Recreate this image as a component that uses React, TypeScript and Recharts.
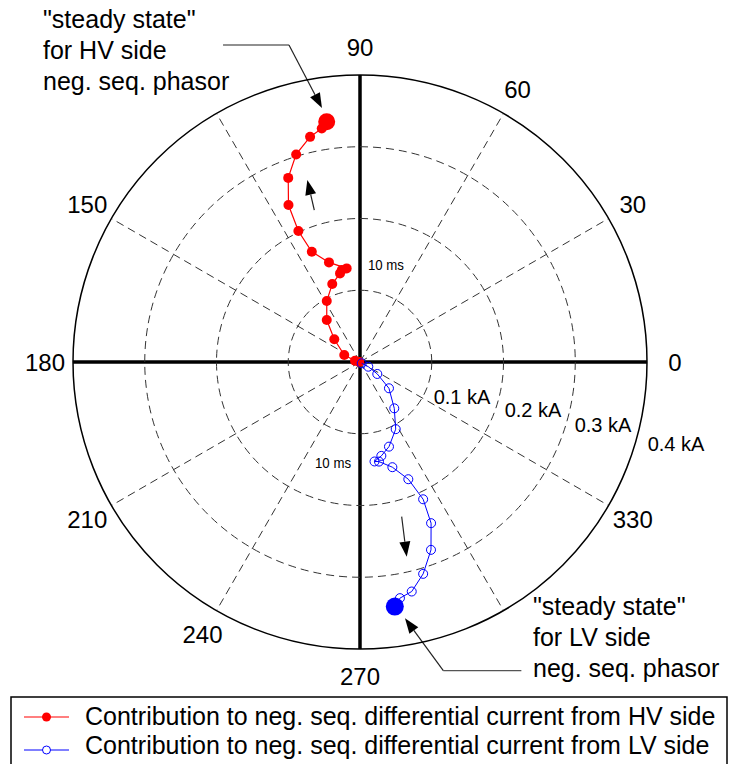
import React from 'react';
import { ScatterChart, Scatter, XAxis, YAxis, ReferenceLine, ReferenceDot } from 'recharts';

// HV side contribution, one sample per entry: magnitude in kA, angle in degrees
const hvMagnitude = [0.001, 0.0072, 0.024, 0.0478, 0.0746, 0.0968, 0.1153, 0.1266, 0.1306, 0.1318, 0.1454, 0.1677, 0.2017, 0.2404, 0.2754, 0.3027, 0.3214, 0.3298, 0.3379];
const hvAngle = [180, 165, 156, 138.6, 128.4, 118.6, 109.6, 102.7, 101.2, 98.1, 107.3, 113.6, 115.2, 114.5, 111.3, 107.1, 102.5, 99.3, 97.9];

// LV side contribution
const lvMagnitude = [0.003, 0.0133, 0.0293, 0.0545, 0.0803, 0.106, 0.1247, 0.1342, 0.1401, 0.1413, 0.1534, 0.1767, 0.2106, 0.2455, 0.2799, 0.3081, 0.3279, 0.3338, 0.3443];
const lvAngle = [-37, -29.5, -34.7, -42.2, -53.5, -62, -71.1, -77.2, -81.7, -79.2, -72.9, -67.6, -65.3, -66.2, -69.3, -73.4, -77.3, -80.4, -81.9];

// grid
const angleTicks = [0, 30, 60, 90, 150, 180, 210, 240, 270, 330];
const spokeAngles = [30, 60, 120, 150, 210, 240, 300, 330];
const ringValues = [0.1, 0.2, 0.3];
const outerRing = 0.4;
const ringLabels = ['0.1 kA', '0.2 kA', '0.3 kA', '0.4 kA'];
const ringLabelPos = [
  { x: 0.1422, y: -0.0484 },
  { x: 0.2411, y: -0.0669 },
  { x: 0.3387, y: -0.0878 },
  { x: 0.4404, y: -0.1143 },
];
const timeLabels = ['10 ms', '10 ms'];
const timeLabelPos = [
  { x: 0.0362, y: 0.1352 },
  { x: -0.0376, y: -0.1403 },
];

const hvNote = ['"steady state"', 'for HV side', 'neg. seq. phasor'];
const lvNote = ['"steady state"', 'for LV side', 'neg. seq. phasor'];

// layout
const W = 736;
const H = 764;
const MARGIN = { top: 0, right: 16, bottom: 40, left: 0 };
const PX_PER_KA = 717.5;
const X_HALF = (W - MARGIN.left - MARGIN.right) / 2 / PX_PER_KA;
const Y_HALF = (H - MARGIN.top - MARGIN.bottom) / 2 / PX_PER_KA;
const LABEL_R = 0.439;
const FONT = '"Liberation Sans", Arial, Helvetica, sans-serif';

const toXY = (m: number, a: number) => ({
  x: m * Math.cos((a * Math.PI) / 180),
  y: m * Math.sin((a * Math.PI) / 180),
});

const hvData = hvMagnitude.map((m, i) => toXY(m, hvAngle[i]));
const lvData = lvMagnitude.map((m, i) => toXY(m, lvAngle[i]));

// annotation paths in data space (kA)
const hvArrow = [
  { x: -0.1909, y: 0.4418 },
  { x: -0.099, y: 0.4418 },
  { x: -0.053, y: 0.354 },
];
const lvArrow = [
  { x: 0.2249, y: -0.4302 },
  { x: 0.1161, y: -0.4302 },
  { x: 0.0627, y: -0.3572 },
];
const hvDirection = [
  { x: -0.0637, y: 0.2118 },
  { x: -0.0734, y: 0.2537 },
];
const lvDirection = [
  { x: 0.0581, y: -0.2156 },
  { x: 0.0651, y: -0.2713 },
];

const ArrowLine = (p: any) => {
  const { x1, y1, x2, y2 } = p;
  const dx = x2 - x1;
  const dy = y2 - y1;
  const len = Math.sqrt(dx * dx + dy * dy) || 1;
  const ux = dx / len;
  const uy = dy / len;
  const L = 15;
  const hw = 5.5;
  const bx = x2 - ux * L;
  const by = y2 - uy * L;
  const pts = `${x2},${y2} ${bx - uy * hw},${by + ux * hw} ${bx + uy * hw},${by - ux * hw}`;
  return (
    <g>
      <line x1={x1} y1={y1} x2={bx} y2={by} stroke="#222" strokeWidth={1.2} />
      <polygon points={pts} fill="#000" />
    </g>
  );
};

const NoteText = (lines: string[]) => (p: any) => (
  <text x={p.cx} y={p.cy} fontFamily={FONT} fontSize={25} fill="#000">
    {lines.map((t, i) => (
      <tspan key={i} x={p.cx} dy={i === 0 ? 0 : 31}>
        {t}
      </tspan>
    ))}
  </text>
);

const Label = (text: string, size: number, extra: any = {}) => (p: any) => (
  <text
    x={p.cx}
    y={p.cy}
    textAnchor="middle"
    dominantBaseline="central"
    fontFamily={FONT}
    fontSize={size}
    fill="#000"
    {...extra}
  >
    {text}
  </text>
);

export default function App() {
  return (
    <div style={{ position: 'absolute', left: 0, top: 0, width: W, height: H, background: '#fff' }}>
      <ScatterChart width={W} height={H} margin={MARGIN}>
        <XAxis type="number" dataKey="x" domain={[-X_HALF, X_HALF]} allowDataOverflow hide />
        <YAxis type="number" dataKey="y" domain={[-Y_HALF, Y_HALF]} allowDataOverflow hide />

        {ringValues.map((r) => (
          <ReferenceDot
            key={`ring-${r}`}
            x={0}
            y={0}
            r={r * PX_PER_KA}
            fill="none"
            stroke="#333"
            strokeWidth={1}
            strokeDasharray="8 5"
          />
        ))}
        <ReferenceDot x={0} y={0} r={outerRing * PX_PER_KA} fill="none" stroke="#000" strokeWidth={1.5} />

        {spokeAngles.map((a) => (
          <ReferenceLine
            key={`spoke-${a}`}
            segment={[{ x: 0, y: 0 }, toXY(outerRing, a)]}
            stroke="#333"
            strokeWidth={1}
            strokeDasharray="8 5"
          />
        ))}
        <ReferenceLine segment={[{ x: -outerRing, y: 0 }, { x: outerRing, y: 0 }]} stroke="#000" strokeWidth={3.5} />
        <ReferenceLine segment={[{ x: 0, y: -outerRing }, { x: 0, y: outerRing }]} stroke="#000" strokeWidth={3.5} />

        {angleTicks.map((a) => (
          <ReferenceDot key={`ang-${a}`} {...toXY(LABEL_R, a)} r={0} shape={Label(String(a), 24)} />
        ))}
        {ringLabels.map((t, i) => (
          <ReferenceDot key={`rl-${i}`} {...ringLabelPos[i]} r={0} shape={Label(t, 20)} />
        ))}
        {timeLabels.map((t, i) => (
          <ReferenceDot
            key={`tl-${i}`}
            {...timeLabelPos[i]}
            r={0}
            shape={Label(t, 14, { textLength: 36, lengthAdjust: 'spacingAndGlyphs' })}
          />
        ))}

        <Scatter
          name="HV"
          data={hvData}
          isAnimationActive={false}
          line={{ stroke: '#ff0000', strokeWidth: 1.2 }}
          shape={(p: any) => <circle cx={p.cx} cy={p.cy} r={5} fill="#ff0000" />}
        />
        <Scatter
          name="HV steady"
          data={hvData.slice(-1)}
          isAnimationActive={false}
          shape={(p: any) => <circle cx={p.cx} cy={p.cy} r={8.5} fill="#ff0000" />}
        />
        <Scatter
          name="LV"
          data={lvData}
          isAnimationActive={false}
          line={{ stroke: '#0000ff', strokeWidth: 1 }}
          shape={(p: any) => <circle cx={p.cx} cy={p.cy} r={4.5} fill="none" stroke="#0000ff" strokeWidth={1} />}
        />
        <Scatter
          name="LV steady"
          data={lvData.slice(-1)}
          isAnimationActive={false}
          shape={(p: any) => <circle cx={p.cx} cy={p.cy} r={9} fill="#0000ff" />}
        />

        <ReferenceLine segment={[hvArrow[0], hvArrow[1]]} stroke="#222" strokeWidth={1.2} />
        <ReferenceLine segment={[hvArrow[1], hvArrow[2]]} shape={ArrowLine} />
        <ReferenceLine segment={[lvArrow[0], lvArrow[1]]} stroke="#555" strokeWidth={1.2} />
        <ReferenceLine segment={[lvArrow[1], lvArrow[2]]} shape={ArrowLine} />
        <ReferenceLine segment={[hvDirection[0], hvDirection[1]]} shape={ArrowLine} />
        <ReferenceLine segment={[lvDirection[0], lvDirection[1]]} shape={ArrowLine} />

        <ReferenceDot x={-0.4418} y={0.4655} r={0} shape={NoteText(hvNote)} />
        <ReferenceDot x={0.2411} y={-0.3526} r={0} shape={NoteText(lvNote)} />
      </ScatterChart>

      <svg width={W} height={H} style={{ position: 'absolute', left: 0, top: 0, pointerEvents: 'none' }}>
        <rect x={11} y={697} width={716} height={90} fill="none" stroke="#000" strokeWidth={1.5} />
        <line x1={24} y1={717} x2={69} y2={717} stroke="#ff0000" strokeWidth={1.2} />
        <circle cx={46.5} cy={717} r={4.5} fill="#ff0000" />
        <text x={85} y={725} fontFamily={FONT} fontSize={25} fill="#000">
          Contribution to neg. seq. differential current from HV side
        </text>
        <line x1={24} y1={750} x2={69} y2={750} stroke="#0000ff" strokeWidth={1} />
        <circle cx={46.5} cy={750} r={4} fill="#fff" stroke="#0000ff" strokeWidth={1} />
        <text x={85} y={754} fontFamily={FONT} fontSize={25} fill="#000">
          Contribution to neg. seq. differential current from LV side
        </text>
      </svg>
    </div>
  );
}
